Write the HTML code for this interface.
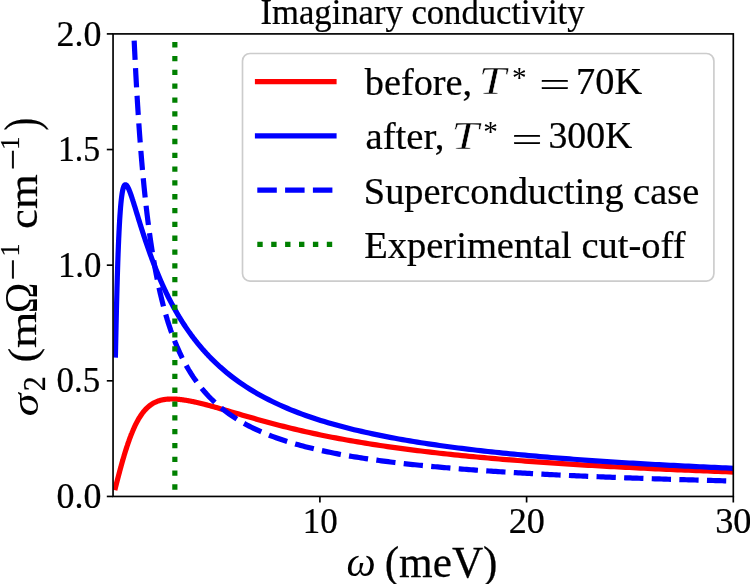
<!DOCTYPE html>
<html><head><meta charset="utf-8"><style>html,body{margin:0;padding:0;background:#fff;overflow:hidden;}svg{display:block;will-change:transform;}text{font-family:"Liberation Serif",serif;}</style></head>
<body><svg width="750" height="584" viewBox="0 0 750 584">
<defs><clipPath id="ax"><rect x="113.2" y="33.9" width="620.0999999999999" height="462.55"/></clipPath></defs>
<rect width="750" height="584" fill="#fff"/>
<g clip-path="url(#ax)" fill="none" stroke-width="5.2">
<path d="M115.45,487.58 L115.60,486.97 L115.75,486.36 L115.91,485.76 L116.06,485.15 L116.22,484.55 L116.37,483.94 L116.53,483.34 L116.68,482.74 L116.84,482.14 L116.99,481.54 L117.15,480.94 L117.30,480.34 L117.46,479.75 L117.61,479.15 L117.77,478.56 L117.92,477.96 L118.08,477.37 L118.23,476.78 L118.39,476.19 L118.54,475.60 L118.70,475.02 L118.85,474.43 L119.01,473.85 L119.16,473.27 L119.32,472.69 L119.47,472.11 L119.63,471.53 L119.78,470.95 L119.94,470.38 L120.09,469.81 L120.24,469.24 L120.40,468.67 L120.55,468.10 L120.71,467.54 L120.86,466.97 L121.02,466.41 L121.17,465.85 L121.33,465.29 L121.48,464.74 L121.64,464.18 L121.79,463.63 L121.95,463.08 L122.10,462.53 L122.26,461.99 L122.41,461.44 L122.57,460.90 L122.72,460.36 L122.88,459.83 L123.03,459.29 L123.19,458.76 L123.34,458.23 L123.50,457.70 L123.65,457.17 L123.81,456.65 L123.96,456.13 L124.12,455.61 L124.27,455.09 L124.43,454.58 L124.58,454.07 L124.74,453.56 L124.89,453.05 L125.04,452.55 L125.20,452.05 L125.35,451.55 L125.51,451.05 L125.66,450.56 L125.82,450.07 L125.97,449.58 L126.13,449.09 L126.28,448.61 L126.44,448.13 L126.59,447.65 L126.75,447.17 L126.90,446.70 L127.06,446.23 L127.21,445.76 L127.37,445.30 L127.52,444.83 L127.68,444.37 L127.83,443.92 L127.99,443.46 L128.14,443.01 L128.30,442.56 L128.45,442.12 L128.61,441.67 L128.76,441.23 L128.92,440.80 L129.07,440.36 L129.23,439.93 L129.38,439.50 L129.53,439.07 L129.69,438.65 L129.84,438.23 L130.00,437.81 L130.15,437.40 L130.31,436.98 L130.46,436.57 L130.62,436.17 L130.77,435.76 L130.93,435.36 L131.08,434.96 L131.24,434.57 L131.39,434.18 L131.55,433.79 L131.70,433.40 L131.86,433.02 L132.01,432.64 L132.17,432.26 L132.32,431.88 L132.48,431.51 L132.63,431.14 L132.79,430.77 L132.94,430.41 L133.10,430.05 L133.25,429.69 L133.41,429.33 L133.56,428.98 L133.72,428.63 L133.87,428.28 L134.39,427.14 L134.91,426.02 L135.43,424.94 L135.95,423.89 L136.47,422.86 L136.99,421.87 L137.51,420.91 L138.03,419.97 L138.55,419.07 L139.07,418.19 L139.59,417.34 L140.11,416.52 L140.63,415.73 L141.15,414.96 L141.67,414.22 L142.19,413.50 L142.71,412.81 L143.23,412.14 L143.75,411.49 L144.27,410.87 L144.79,410.28 L145.31,409.70 L145.83,409.14 L146.35,408.61 L146.87,408.10 L147.39,407.61 L147.91,407.13 L148.43,406.68 L148.95,406.24 L149.47,405.82 L149.99,405.42 L150.51,405.04 L151.03,404.67 L151.55,404.32 L152.07,403.98 L152.59,403.66 L153.11,403.35 L153.63,403.06 L154.15,402.78 L154.67,402.52 L155.19,402.26 L155.71,402.02 L156.23,401.79 L156.75,401.58 L157.27,401.37 L157.79,401.18 L158.31,400.99 L158.83,400.82 L159.35,400.65 L159.87,400.50 L160.39,400.35 L160.91,400.22 L161.43,400.09 L161.95,399.97 L162.47,399.86 L162.99,399.76 L163.51,399.66 L164.03,399.57 L164.55,399.49 L165.07,399.42 L165.59,399.35 L166.11,399.29 L166.63,399.24 L167.15,399.19 L167.67,399.15 L168.19,399.11 L168.71,399.08 L169.23,399.05 L169.75,399.03 L170.27,399.02 L170.79,399.01 L171.31,399.00 L171.83,399.00 L172.35,399.00 L172.87,399.01 L173.39,399.02 L173.91,399.04 L174.43,399.06 L174.95,399.08 L175.47,399.11 L175.99,399.14 L176.51,399.18 L177.03,399.21 L177.55,399.25 L178.07,399.30 L178.59,399.35 L179.11,399.40 L179.63,399.45 L180.15,399.51 L180.67,399.57 L181.19,399.63 L181.71,399.69 L182.23,399.76 L182.75,399.83 L183.27,399.90 L183.79,399.98 L184.31,400.05 L184.83,400.13 L185.35,400.21 L185.87,400.30 L186.39,400.38 L186.91,400.47 L187.43,400.56 L187.95,400.65 L188.47,400.74 L188.99,400.84 L189.51,400.94 L190.03,401.04 L190.55,401.14 L191.07,401.24 L191.59,401.34 L192.11,401.45 L192.63,401.55 L193.15,401.66 L193.67,401.77 L194.19,401.88 L194.71,402.00 L195.23,402.11 L195.75,402.22 L196.27,402.34 L196.79,402.46 L197.31,402.58 L197.83,402.70 L198.35,402.82 L198.87,402.94 L199.39,403.06 L199.91,403.19 L200.43,403.31 L200.95,403.44 L201.47,403.57 L201.99,403.70 L202.51,403.83 L203.03,403.96 L203.55,404.09 L204.07,404.22 L204.59,404.35 L205.11,404.49 L205.63,404.62 L206.15,404.76 L206.67,404.89 L207.19,405.03 L207.71,405.17 L208.23,405.31 L208.75,405.44 L209.27,405.58 L209.79,405.72 L210.31,405.86 L210.83,406.01 L211.35,406.15 L211.87,406.29 L212.39,406.43 L212.91,406.58 L213.43,406.72 L213.95,406.86 L214.47,407.01 L214.99,407.15 L215.51,407.30 L216.03,407.45 L216.55,407.59 L220.27,408.65 L223.99,409.72 L227.70,410.80 L231.42,411.89 L235.14,412.98 L238.86,414.07 L242.57,415.15 L246.29,416.23 L250.01,417.30 L253.73,418.36 L257.44,419.41 L261.16,420.45 L264.88,421.47 L268.60,422.48 L272.31,423.48 L276.03,424.46 L279.75,425.42 L283.47,426.37 L287.18,427.30 L290.90,428.21 L294.62,429.11 L298.34,429.99 L302.06,430.85 L305.77,431.70 L309.49,432.53 L313.21,433.34 L316.93,434.14 L320.64,434.92 L324.36,435.69 L328.08,436.44 L331.80,437.18 L335.51,437.90 L339.23,438.60 L342.95,439.30 L346.67,439.97 L350.38,440.64 L354.10,441.29 L357.82,441.93 L361.54,442.55 L365.26,443.17 L368.97,443.77 L372.69,444.36 L376.41,444.93 L380.13,445.50 L383.84,446.05 L387.56,446.60 L391.28,447.13 L395.00,447.65 L398.71,448.16 L402.43,448.67 L406.15,449.16 L409.87,449.64 L413.58,450.12 L417.30,450.58 L421.02,451.04 L424.74,451.49 L428.45,451.93 L432.17,452.36 L435.89,452.79 L439.61,453.21 L443.33,453.62 L447.04,454.02 L450.76,454.41 L454.48,454.80 L458.20,455.18 L461.91,455.56 L465.63,455.93 L469.35,456.29 L473.07,456.65 L476.78,457.00 L480.50,457.34 L484.22,457.68 L487.94,458.01 L491.65,458.34 L495.37,458.66 L499.09,458.98 L502.81,459.29 L506.52,459.60 L510.24,459.90 L513.96,460.19 L517.68,460.49 L521.40,460.78 L525.11,461.06 L528.83,461.34 L532.55,461.61 L536.27,461.88 L539.98,462.15 L543.70,462.41 L547.42,462.67 L551.14,462.93 L554.85,463.18 L558.57,463.43 L562.29,463.67 L566.01,463.91 L569.72,464.15 L573.44,464.38 L577.16,464.61 L580.88,464.84 L584.59,465.06 L588.31,465.28 L592.03,465.50 L595.75,465.72 L599.47,465.93 L603.18,466.14 L606.90,466.34 L610.62,466.55 L614.34,466.75 L618.05,466.94 L621.77,467.14 L625.49,467.33 L629.21,467.52 L632.92,467.71 L636.64,467.90 L640.36,468.08 L644.08,468.26 L647.79,468.44 L651.51,468.62 L655.23,468.79 L658.95,468.96 L662.67,469.13 L666.38,469.30 L670.10,469.47 L673.82,469.63 L677.54,469.79 L681.25,469.95 L684.97,470.11 L688.69,470.27 L692.41,470.42 L696.12,470.57 L699.84,470.72 L703.56,470.87 L707.28,471.02 L710.99,471.17 L714.71,471.31 L718.43,471.45 L722.15,471.59 L725.86,471.73 L729.58,471.87 L733.30,472.01" stroke="#ff0000" stroke-linecap="square" stroke-linejoin="round"/>
<path d="M115.45,355.00 L115.61,347.34 L115.76,339.91 L115.92,332.69 L116.07,325.70 L116.23,318.92 L116.38,312.37 L116.54,306.04 L116.69,299.92 L116.85,294.02 L117.00,288.33 L117.16,282.85 L117.31,277.58 L117.47,272.51 L117.62,267.64 L117.77,262.97 L117.93,258.50 L118.08,254.21 L118.24,250.10 L118.39,246.18 L118.55,242.43 L118.70,238.85 L118.86,235.44 L119.01,232.18 L119.17,229.09 L119.32,226.14 L119.48,223.34 L119.63,220.67 L119.79,218.15 L119.94,215.76 L120.10,213.49 L120.25,211.34 L120.41,209.31 L120.56,207.40 L120.72,205.59 L120.87,203.88 L121.02,202.28 L121.18,200.77 L121.33,199.35 L121.49,198.03 L121.64,196.78 L121.80,195.62 L121.95,194.54 L122.11,193.52 L122.26,192.58 L122.42,191.71 L122.57,190.90 L122.73,190.16 L122.88,189.47 L123.04,188.85 L123.19,188.27 L123.35,187.75 L123.50,187.27 L123.66,186.85 L123.81,186.47 L123.97,186.13 L124.12,185.83 L124.27,185.57 L124.43,185.35 L124.58,185.17 L124.74,185.02 L124.89,184.90 L125.05,184.82 L125.20,184.76 L125.36,184.73 L125.51,184.73 L125.67,184.75 L125.82,184.80 L125.98,184.87 L126.13,184.96 L126.29,185.08 L126.44,185.21 L126.60,185.37 L126.75,185.54 L126.91,185.73 L127.06,185.94 L127.22,186.16 L127.37,186.40 L127.52,186.65 L127.68,186.92 L127.83,187.20 L127.99,187.49 L128.14,187.79 L128.30,188.11 L128.45,188.43 L128.61,188.77 L128.76,189.11 L128.92,189.47 L129.07,189.83 L129.23,190.20 L129.38,190.58 L129.54,190.97 L129.69,191.37 L129.85,191.77 L130.00,192.18 L130.16,192.59 L130.31,193.01 L130.47,193.44 L130.62,193.87 L130.77,194.30 L130.93,194.74 L131.08,195.19 L131.24,195.64 L131.39,196.09 L131.55,196.55 L131.70,197.01 L131.86,197.48 L132.01,197.94 L132.17,198.41 L132.32,198.89 L132.48,199.36 L132.63,199.84 L132.79,200.32 L132.94,200.81 L133.10,201.29 L133.25,201.78 L133.41,202.27 L133.56,202.76 L133.72,203.25 L133.87,203.75 L134.39,205.42 L134.91,207.10 L135.43,208.78 L135.95,210.48 L136.47,212.17 L136.99,213.87 L137.51,215.57 L138.03,217.26 L138.55,218.95 L139.07,220.63 L139.59,222.31 L140.11,223.98 L140.63,225.64 L141.15,227.29 L141.67,228.93 L142.19,230.57 L142.71,232.19 L143.23,233.80 L143.75,235.40 L144.27,236.98 L144.79,238.56 L145.31,240.12 L145.83,241.67 L146.35,243.21 L146.87,244.74 L147.39,246.25 L147.91,247.75 L148.43,249.24 L148.95,250.71 L149.47,252.17 L149.99,253.62 L150.51,255.06 L151.03,256.48 L151.55,257.89 L152.07,259.29 L152.59,260.68 L153.11,262.05 L153.63,263.41 L154.15,264.76 L154.67,266.09 L155.19,267.41 L155.71,268.73 L156.23,270.02 L156.75,271.31 L157.27,272.59 L157.79,273.85 L158.31,275.10 L158.83,276.34 L159.35,277.57 L159.87,278.78 L160.39,279.99 L160.91,281.18 L161.43,282.37 L161.95,283.54 L162.47,284.70 L162.99,285.85 L163.51,286.99 L164.03,288.12 L164.55,289.24 L165.07,290.34 L165.59,291.44 L166.11,292.53 L166.63,293.61 L167.15,294.68 L167.67,295.73 L168.19,296.78 L168.71,297.82 L169.23,298.85 L169.75,299.87 L170.27,300.88 L170.79,301.88 L171.31,302.87 L171.83,303.86 L172.35,304.83 L172.87,305.80 L173.39,306.75 L173.91,307.70 L174.43,308.64 L174.95,309.57 L175.47,310.50 L175.99,311.41 L176.51,312.32 L177.03,313.22 L177.55,314.11 L178.07,314.99 L178.59,315.87 L179.11,316.73 L179.63,317.59 L180.15,318.45 L180.67,319.29 L181.19,320.13 L181.71,320.96 L182.23,321.78 L182.75,322.60 L183.27,323.41 L183.79,324.21 L184.31,325.01 L184.83,325.79 L185.35,326.58 L185.87,327.35 L186.39,328.12 L186.91,328.88 L187.43,329.64 L187.95,330.39 L188.47,331.13 L188.99,331.87 L189.51,332.60 L190.03,333.33 L190.55,334.05 L191.07,334.76 L191.59,335.47 L192.11,336.17 L192.63,336.86 L193.15,337.55 L193.67,338.24 L194.19,338.92 L194.71,339.59 L195.23,340.26 L195.75,340.92 L196.27,341.58 L196.79,342.23 L197.31,342.88 L197.83,343.52 L198.35,344.16 L198.87,344.79 L199.39,345.42 L199.91,346.04 L200.43,346.66 L200.95,347.27 L201.47,347.88 L201.99,348.48 L202.51,349.08 L203.03,349.68 L203.55,350.27 L204.07,350.85 L204.59,351.43 L205.11,352.01 L205.63,352.58 L206.15,353.15 L206.67,353.71 L207.19,354.27 L207.71,354.82 L208.23,355.37 L208.75,355.92 L209.27,356.46 L209.79,357.00 L210.31,357.54 L210.83,358.07 L211.35,358.60 L211.87,359.12 L212.39,359.64 L212.91,360.15 L213.43,360.66 L213.95,361.17 L214.47,361.68 L214.99,362.18 L215.51,362.68 L216.03,363.17 L216.55,363.66 L220.27,367.07 L223.99,370.31 L227.70,373.40 L231.42,376.34 L235.14,379.15 L238.86,381.84 L242.57,384.40 L246.29,386.86 L250.01,389.22 L253.73,391.47 L257.44,393.64 L261.16,395.72 L264.88,397.72 L268.60,399.64 L272.31,401.49 L276.03,403.27 L279.75,404.99 L283.47,406.64 L287.18,408.24 L290.90,409.78 L294.62,411.27 L298.34,412.70 L302.06,414.10 L305.77,415.44 L309.49,416.74 L313.21,418.01 L316.93,419.23 L320.64,420.42 L324.36,421.56 L328.08,422.68 L331.80,423.76 L335.51,424.82 L339.23,425.84 L342.95,426.83 L346.67,427.80 L350.38,428.73 L354.10,429.65 L357.82,430.54 L361.54,431.40 L365.26,432.25 L368.97,433.07 L372.69,433.87 L376.41,434.65 L380.13,435.41 L383.84,436.16 L387.56,436.88 L391.28,437.59 L395.00,438.28 L398.71,438.96 L402.43,439.62 L406.15,440.26 L409.87,440.89 L413.58,441.51 L417.30,442.11 L421.02,442.70 L424.74,443.28 L428.45,443.84 L432.17,444.40 L435.89,444.94 L439.61,445.47 L443.33,445.99 L447.04,446.49 L450.76,446.99 L454.48,447.48 L458.20,447.96 L461.91,448.43 L465.63,448.89 L469.35,449.34 L473.07,449.79 L476.78,450.22 L480.50,450.65 L484.22,451.07 L487.94,451.48 L491.65,451.88 L495.37,452.28 L499.09,452.67 L502.81,453.05 L506.52,453.43 L510.24,453.80 L513.96,454.16 L517.68,454.52 L521.40,454.87 L525.11,455.21 L528.83,455.55 L532.55,455.89 L536.27,456.21 L539.98,456.54 L543.70,456.85 L547.42,457.17 L551.14,457.48 L554.85,457.78 L558.57,458.08 L562.29,458.37 L566.01,458.66 L569.72,458.94 L573.44,459.23 L577.16,459.50 L580.88,459.77 L584.59,460.04 L588.31,460.31 L592.03,460.57 L595.75,460.82 L599.47,461.08 L603.18,461.33 L606.90,461.57 L610.62,461.81 L614.34,462.05 L618.05,462.29 L621.77,462.52 L625.49,462.75 L629.21,462.98 L632.92,463.20 L636.64,463.42 L640.36,463.64 L644.08,463.85 L647.79,464.06 L651.51,464.27 L655.23,464.48 L658.95,464.68 L662.67,464.88 L666.38,465.08 L670.10,465.28 L673.82,465.47 L677.54,465.66 L681.25,465.85 L684.97,466.04 L688.69,466.22 L692.41,466.40 L696.12,466.58 L699.84,466.76 L703.56,466.94 L707.28,467.11 L710.99,467.28 L714.71,467.45 L718.43,467.62 L722.15,467.78 L725.86,467.95 L729.58,468.11 L733.30,468.27" stroke="#0000ff" stroke-linecap="square" stroke-linejoin="round"/>
<path d="M134.17,40.60 L134.34,44.15 L134.50,47.65 L134.67,51.10 L134.83,54.49 L135.00,57.83 L135.16,61.12 L135.33,64.37 L135.49,67.56 L135.66,70.71 L135.82,73.81 L135.99,76.87 L136.15,79.88 L136.32,82.85 L136.48,85.78 L136.65,88.66 L136.81,91.51 L136.98,94.32 L137.14,97.08 L137.31,99.82 L137.47,102.51 L137.63,105.17 L137.80,107.79 L137.96,110.37 L138.13,112.93 L138.29,115.44 L138.46,117.93 L138.62,120.38 L138.79,122.81 L138.95,125.20 L139.12,127.56 L139.28,129.89 L139.45,132.19 L139.61,134.46 L139.78,136.71 L139.94,138.93 L140.11,141.12 L140.27,143.28 L140.44,145.42 L140.60,147.53 L140.77,149.61 L140.93,151.67 L141.10,153.71 L141.26,155.72 L141.43,157.71 L141.59,159.68 L141.75,161.62 L141.92,163.54 L142.08,165.44 L142.25,167.32 L142.41,169.18 L142.58,171.01 L142.74,172.83 L142.91,174.63 L143.07,176.40 L143.24,178.16 L143.40,179.89 L143.57,181.61 L143.73,183.31 L143.90,184.99 L144.06,186.65 L144.23,188.30 L144.39,189.93 L144.56,191.54 L144.72,193.13 L144.89,194.71 L145.05,196.27 L145.22,197.82 L145.38,199.35 L145.55,200.86 L145.71,202.36 L145.87,203.84 L146.04,205.31 L146.20,206.76 L146.37,208.20 L146.53,209.63 L146.70,211.04 L146.86,212.44 L147.03,213.82 L147.19,215.19 L147.36,216.55 L147.52,217.89 L147.69,219.22 L147.85,220.54 L148.02,221.85 L148.18,223.14 L148.35,224.42 L148.51,225.69 L148.68,226.95 L148.84,228.20 L149.01,229.43 L149.17,230.65 L149.34,231.87 L149.50,233.07 L149.67,234.26 L149.83,235.44 L149.99,236.61 L150.16,237.77 L150.32,238.91 L150.49,240.05 L150.65,241.18 L150.82,242.30 L150.98,243.41 L151.15,244.51 L151.31,245.60 L151.48,246.68 L151.64,247.75 L151.81,248.81 L151.97,249.86 L152.14,250.90 L152.30,251.94 L152.47,252.97 L152.63,253.98 L152.80,254.99 L152.96,255.99 L153.13,256.99 L153.29,257.97 L153.46,258.95 L153.62,259.91 L153.79,260.88 L153.95,261.83 L154.12,262.77 L154.28,263.71 L154.44,264.64 L154.61,265.56 L154.77,266.48 L154.94,267.39 L155.10,268.29 L155.27,269.18 L155.43,270.07 L155.60,270.95 L155.76,271.82 L155.93,272.69 L156.09,273.55 L156.26,274.40 L156.42,275.25 L156.59,276.09 L156.75,276.92 L156.92,277.75 L157.08,278.57 L157.25,279.39 L157.41,280.19 L157.58,281.00 L157.74,281.79 L157.91,282.59 L158.07,283.37 L158.24,284.15 L158.40,284.93 L158.56,285.69 L158.73,286.46 L158.89,287.21 L159.06,287.97 L159.22,288.71 L159.39,289.45 L159.55,290.19 L159.72,290.92 L159.88,291.65 L160.05,292.37 L160.21,293.08 L160.38,293.79 L160.54,294.50 L160.71,295.20 L160.87,295.89 L161.04,296.59 L161.20,297.27 L161.37,297.95 L161.53,298.63 L161.70,299.30 L161.86,299.97 L162.03,300.63 L162.19,301.29 L162.36,301.95 L162.52,302.60 L162.68,303.24 L162.85,303.88 L163.01,304.52 L163.18,305.15 L163.34,305.78 L163.51,306.41 L163.67,307.03 L163.84,307.64 L164.00,308.26 L164.17,308.86 L164.33,309.47 L164.50,310.07 L164.66,310.67 L164.83,311.26 L164.99,311.85 L165.16,312.43 L165.32,313.02 L165.49,313.59 L165.65,314.17 L165.82,314.74 L165.98,315.31 L166.15,315.87 L166.31,316.43 L166.48,316.99 L166.64,317.54 L166.80,318.09 L166.97,318.64 L167.13,319.18 L167.30,319.72 L167.46,320.26 L167.63,320.79 L167.79,321.32 L167.96,321.85 L168.12,322.37 L168.29,322.89 L168.45,323.41 L168.62,323.93 L168.78,324.44 L168.95,324.95 L169.11,325.45 L169.28,325.95 L169.44,326.45 L169.61,326.95 L169.77,327.44 L169.94,327.94 L170.10,328.42 L170.27,328.91 L170.43,329.39 L170.60,329.87 L170.76,330.35 L170.93,330.82 L171.09,331.29 L171.25,331.76 L171.42,332.23 L171.58,332.69 L171.75,333.15 L171.91,333.61 L172.08,334.07 L172.24,334.52 L172.41,334.97 L172.57,335.42 L172.74,335.86 L172.90,336.31 L173.07,336.75 L173.23,337.19 L173.40,337.62 L173.56,338.06 L173.73,338.49 L173.89,338.92 L174.06,339.34 L174.22,339.77 L174.39,340.19 L174.55,340.61 L174.72,341.03 L174.88,341.44 L175.05,341.86 L175.21,342.27 L177.45,347.65 L179.69,352.66 L181.93,357.35 L184.18,361.74 L186.42,365.87 L188.66,369.74 L190.90,373.40 L193.14,376.85 L195.38,380.11 L197.62,383.20 L199.86,386.13 L202.11,388.91 L204.35,391.55 L206.59,394.07 L208.83,396.47 L211.07,398.76 L213.31,400.95 L215.55,403.04 L217.80,405.04 L220.04,406.96 L222.28,408.80 L224.52,410.56 L226.76,412.26 L229.00,413.89 L231.24,415.45 L233.48,416.96 L235.73,418.42 L237.97,419.82 L240.21,421.17 L242.45,422.48 L244.69,423.74 L246.93,424.96 L249.17,426.14 L251.42,427.28 L253.66,428.38 L255.90,429.45 L258.14,430.48 L260.38,431.49 L262.62,432.46 L264.86,433.41 L267.10,434.33 L269.35,435.22 L271.59,436.09 L273.83,436.93 L276.07,437.75 L278.31,438.54 L280.55,439.32 L282.79,440.07 L285.03,440.81 L287.28,441.53 L289.52,442.22 L291.76,442.91 L294.00,443.57 L296.24,444.22 L298.48,444.85 L300.72,445.47 L302.97,446.07 L305.21,446.66 L307.45,447.23 L309.69,447.79 L311.93,448.34 L314.17,448.88 L316.41,449.40 L318.65,449.91 L320.90,450.42 L323.14,450.91 L325.38,451.39 L327.62,451.86 L329.86,452.32 L332.10,452.77 L334.34,453.22 L336.59,453.65 L338.83,454.08 L341.07,454.49 L343.31,454.90 L345.55,455.30 L347.79,455.69 L350.03,456.08 L352.27,456.46 L354.52,456.83 L356.76,457.19 L359.00,457.55 L361.24,457.90 L363.48,458.25 L365.72,458.59 L367.96,458.92 L370.21,459.25 L372.45,459.57 L374.69,459.89 L376.93,460.20 L379.17,460.50 L381.41,460.80 L383.65,461.10 L385.89,461.39 L388.14,461.67 L390.38,461.96 L392.62,462.23 L394.86,462.51 L397.10,462.77 L399.34,463.04 L401.58,463.30 L403.83,463.55 L406.07,463.80 L408.31,464.05 L410.55,464.30 L412.79,464.54 L415.03,464.77 L417.27,465.01 L419.51,465.24 L421.76,465.46 L424.00,465.69 L426.24,465.91 L428.48,466.12 L430.72,466.34 L432.96,466.55 L435.20,466.76 L437.45,466.96 L439.69,467.17 L441.93,467.37 L444.17,467.56 L446.41,467.76 L448.65,467.95 L450.89,468.14 L453.13,468.32 L455.38,468.51 L457.62,468.69 L459.86,468.87 L462.10,469.05 L464.34,469.22 L466.58,469.39 L468.82,469.57 L471.06,469.73 L473.31,469.90 L475.55,470.06 L477.79,470.23 L480.03,470.39 L482.27,470.54 L484.51,470.70 L486.75,470.86 L489.00,471.01 L491.24,471.16 L493.48,471.31 L495.72,471.46 L497.96,471.60 L500.20,471.74 L502.44,471.89 L504.68,472.03 L506.93,472.17 L509.17,472.30 L511.41,472.44 L513.65,472.57 L515.89,472.71 L518.13,472.84 L520.37,472.97 L522.62,473.10 L524.86,473.22 L527.10,473.35 L529.34,473.47 L531.58,473.60 L533.82,473.72 L536.06,473.84 L538.30,473.96 L540.55,474.08 L542.79,474.19 L545.03,474.31 L547.27,474.42 L549.51,474.54 L551.75,474.65 L553.99,474.76 L556.24,474.87 L558.48,474.98 L560.72,475.09 L562.96,475.19 L565.20,475.30 L567.44,475.40 L569.68,475.51 L571.92,475.61 L574.17,475.71 L576.41,475.81 L578.65,475.91 L580.89,476.01 L583.13,476.10 L585.37,476.20 L587.61,476.30 L589.86,476.39 L592.10,476.49 L594.34,476.58 L596.58,476.67 L598.82,476.76 L601.06,476.85 L603.30,476.94 L605.54,477.03 L607.79,477.12 L610.03,477.21 L612.27,477.29 L614.51,477.38 L616.75,477.46 L618.99,477.55 L621.23,477.63 L623.48,477.71 L625.72,477.80 L627.96,477.88 L630.20,477.96 L632.44,478.04 L634.68,478.12 L636.92,478.19 L639.16,478.27 L641.41,478.35 L643.65,478.43 L645.89,478.50 L648.13,478.58 L650.37,478.65 L652.61,478.73 L654.85,478.80 L657.09,478.87 L659.34,478.94 L661.58,479.02 L663.82,479.09 L666.06,479.16 L668.30,479.23 L670.54,479.30 L672.78,479.36 L675.03,479.43 L677.27,479.50 L679.51,479.57 L681.75,479.63 L683.99,479.70 L686.23,479.77 L688.47,479.83 L690.71,479.89 L692.96,479.96 L695.20,480.02 L697.44,480.09 L699.68,480.15 L701.92,480.21 L704.16,480.27 L706.40,480.33 L708.65,480.39 L710.89,480.45 L713.13,480.51 L715.37,480.57 L717.61,480.63 L719.85,480.69 L722.09,480.75 L724.33,480.81 L726.58,480.86 L728.82,480.92 L731.06,480.98 L733.30,481.03" stroke="#0000ff" stroke-dasharray="19.29 8.325"/>
<path d="M174.85,42.1 L174.85,500" stroke="#008000" stroke-dasharray="5.3 8.52"/>
</g>
<rect x="113.05" y="33.9" width="620.25" height="462.55" fill="none" stroke="#000" stroke-width="1.67" stroke-linecap="square"/>
<g stroke="#000" stroke-width="1.67">
<line x1="106.8" y1="496.45" x2="113" y2="496.45"/>
<line x1="106.8" y1="380.81" x2="113" y2="380.81"/>
<line x1="106.8" y1="265.17" x2="113" y2="265.17"/>
<line x1="106.8" y1="149.54" x2="113" y2="149.54"/>
<line x1="106.8" y1="33.90" x2="113" y2="33.90"/>
<line x1="319.90" y1="496.45" x2="319.90" y2="502.5"/>
<line x1="526.60" y1="496.45" x2="526.60" y2="502.5"/>
<line x1="733.30" y1="496.45" x2="733.30" y2="502.5"/>
</g>
<rect x="242.5" y="53.5" width="471.4" height="227.6" rx="7.5" ry="7.5" fill="#fff" fill-opacity="0.8" stroke="#cccccc" stroke-width="1.67"/>
<g stroke-width="5.2" fill="none">
<path d="M254.9,81.65 L336.6,81.65" stroke="#ff0000"/>
<path d="M254.9,135.9 L336.6,135.9" stroke="#0000ff"/>
<path d="M257.3,190.1 L332.4,190.1" stroke="#0000ff" stroke-dasharray="19.5 8.3"/>
<path d="M257.3,244.4 L332.4,244.4" stroke="#008000" stroke-dasharray="5.4 8.5"/>
</g>
<g font-family="Liberation Serif" fill="#000" stroke="#000" stroke-width="0.25">
<text transform="translate(260.52,23.70) scale(0.9838,1.0000)" font-size="35.2" >Imaginary conductivity</text>
<text transform="translate(56.55,508.12) scale(0.9976,0.9657)" font-size="36" >0.0</text>
<text transform="translate(56.60,392.48) scale(0.9690,0.9657)" font-size="36" >0.5</text>
<text transform="translate(57.91,276.84) scale(0.9665,0.9657)" font-size="36" >1.0</text>
<text transform="translate(58.01,161.19) scale(0.9366,0.9856)" font-size="36" >1.5</text>
<text transform="translate(56.55,45.57) scale(0.9976,0.9657)" font-size="36" >2.0</text>
<text transform="translate(302.80,532.50) scale(0.9696,0.9918)" font-size="36" >10</text>
<text transform="translate(508.75,532.50) scale(1.0030,0.9918)" font-size="36" >20</text>
<text transform="translate(715.18,532.50) scale(1.0107,0.9918)" font-size="36" >30</text>
<text transform="translate(346.40,575.90) scale(0.9000,0.9000)" font-size="46" font-style="italic" stroke-width="0">ω</text>
<text transform="translate(384.68,577.10) scale(0.9829,1.0000)" font-size="44" >(meV)</text>
<text transform="translate(364.75,95.00) scale(0.9953,0.9700)" font-size="38.5" >before,</text>
<text transform="translate(365.49,149.30) scale(1.0053,0.9700)" font-size="38.5" >after,</text>
<text transform="translate(363.86,203.60) scale(0.9964,0.9700)" font-size="38.5" >Superconducting case</text>
<text transform="translate(364.15,257.90) scale(1.0016,0.9700)" font-size="38.5" >Experimental cut-off</text>
<text transform="translate(478.79,94.45) scale(1.2571,1.0000)" font-size="39" font-style="italic" stroke="#fff" stroke-width="0.45">T</text>
<text transform="translate(511.98,86.96) scale(1.0455,1.0634)" font-size="28" stroke-width="0">*</text>
<text transform="translate(539.13,97.23) scale(1.4111,0.9436)" font-size="39" >=</text>
<text transform="translate(576.09,93.87) scale(0.9837,0.9698)" font-size="39" >70K</text>
<text transform="translate(451.39,148.75) scale(1.2571,1.0000)" font-size="39" font-style="italic" stroke="#fff" stroke-width="0.45">T</text>
<text transform="translate(483.28,141.26) scale(1.0455,1.0634)" font-size="28" stroke-width="0">*</text>
<text transform="translate(511.43,151.53) scale(1.4111,0.9436)" font-size="39" >=</text>
<text transform="translate(548.46,148.17) scale(0.9680,0.9698)" font-size="39" >300K</text>
<g transform="translate(37.8,414.9) rotate(-90)">
<text transform="translate(-1.26,-0.16) scale(1.0044,0.8124)" font-size="46" font-style="italic" stroke-width="0">σ</text>
<text transform="translate(23.65,7.05) scale(0.9333,0.9952)" font-size="32" >2</text>
<text transform="translate(52.34,-1.97) scale(0.9532,0.8838)" font-size="46" >(</text>
<text transform="translate(66.83,-1.35) scale(1.0176,0.8368)" font-size="46" >m</text>
<text transform="translate(101.71,-1.05) scale(0.8957,0.9934)" font-size="46" stroke-width="0">Ω</text>
<text transform="translate(134.76,-13.20) scale(1.1933,1.1333)" font-size="32" >−</text>
<text transform="translate(158.33,-18.55) scale(0.8089,0.8571)" font-size="32" >1</text>
<text transform="translate(185.95,-1.30) scale(0.9730,0.8944)" font-size="46" >cm</text>
<text transform="translate(244.60,-13.20) scale(1.1667,1.1333)" font-size="32" >−</text>
<text transform="translate(264.80,-18.55) scale(0.8533,0.8571)" font-size="32" >1</text>
<text transform="translate(284.51,-0.21) scale(0.8255,1.0419)" font-size="46" >)</text>
</g>
</g>
</svg></body></html>
